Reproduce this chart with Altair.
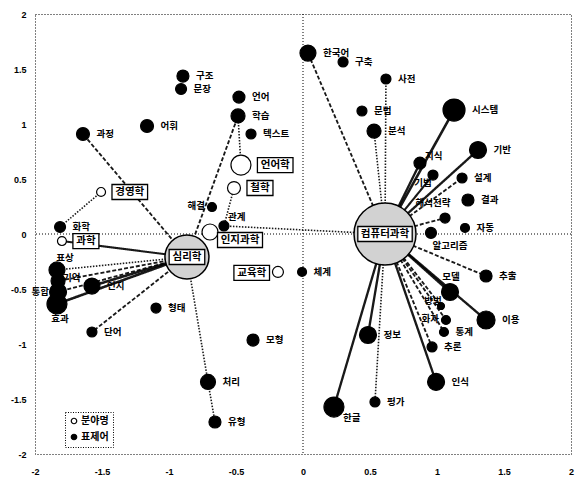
import math
import altair as alt
import pandas as pd

FONT_KR = "Noto Sans CJK KR"
FONT_NUM = "Liberation Sans"

# ---- 분야명 (fields) ----
field_names = ["심리학", "컴퓨터과학", "언어학", "철학", "인지과학", "경영학", "과학", "교육학"]
field_x = [-0.866, 0.612, -0.463, -0.515, -0.694, -1.507, -1.799, -0.187]
field_y = [-0.209, 0.000, 0.627, 0.418, 0.018, 0.382, -0.064, -0.345]
field_freq = [484, 961, 100, 42, 64, 20, 20, 30]
hub_names = ["심리학", "컴퓨터과학"]

# ---- 표제어 (headwords) ----
head_names = ["구조", "문장", "언어", "학습", "텍스트", "어휘", "과정", "해결", "관계", "화학",
              "표상", "기억", "통합", "효과", "인지", "단어", "형태", "모형", "처리", "유형", "체계",
              "한국어", "구축", "사전", "문법", "분석", "시스템", "기반", "지식", "기법", "설계", "결과",
              "해석전략", "자동", "알고리즘", "추출", "모델", "방법", "이용", "화자", "통계", "추론",
              "정보", "인식", "평가", "한글"]
head_x = [-0.896, -0.910, -0.478, -0.485, -0.388, -1.164, -1.642, -0.679, -0.590, -1.813,
          -1.836, -1.828, -1.828, -1.836, -1.575, -1.575, -1.097, -0.373, -0.709, -0.657, -0.007,
          0.037, 0.299, 0.619, 0.440, 0.530, 1.127, 1.306, 0.873, 0.970, 1.187, 1.231,
          1.060, 1.209, 0.955, 1.366, 1.097, 1.030, 1.366, 1.067, 1.052, 0.963,
          0.485, 0.993, 0.537, 0.231]
head_y = [1.436, 1.318, 1.245, 1.073, 0.909, 0.982, 0.909, 0.245, 0.073, 0.064,
          -0.327, -0.427, -0.527, -0.636, -0.473, -0.891, -0.673, -0.964, -1.345, -1.709, -0.345,
          1.645, 1.564, 1.409, 1.118, 0.936, 1.127, 0.764, 0.645, 0.536, 0.509, 0.309,
          0.145, 0.055, 0.010, -0.382, -0.527, -0.655, -0.782, -0.782, -0.891, -1.027,
          -0.918, -1.345, -1.527, -1.573]
head_freq = [36, 30, 36, 49, 25, 42, 42, 20, 25, 30,
             64, 49, 72, 100, 64, 25, 25, 36, 56, 36, 20,
             64, 25, 25, 25, 49, 121, 72, 36, 25, 25, 36,
             25, 20, 30, 36, 72, 12, 81, 20, 20, 25,
             72, 72, 25, 100]

# ---- 연결선 (links) ----
edge_from = ["심리학"] * 10 + ["경영학", "처리", "학습", "철학", "관계"] + ["컴퓨터과학"] * 20
edge_to = ["과정", "과학", "표상", "기억", "통합", "인지", "효과", "단어", "처리", "학습",
           "화학", "유형", "언어학", "관계", "컴퓨터과학",
           "한국어", "사전", "분석", "시스템", "지식", "기법", "기반", "설계", "해석전략", "추출",
           "모델", "이용", "방법", "화자", "통계", "추론", "인식", "정보", "평가", "한글"]
edge_style = ["dashed", "thin", "dotted", "dashed", "dashed", "thick", "thick", "dashed", "dotted", "dashed",
              "dotted", "dotted", "dotted", "dotted", "dotted",
              "dashed", "dotted", "dotted", "thick", "solid", "thin", "solid", "dashed", "dashed", "dashed",
              "thick", "solid", "dashed", "dashed", "dashed", "dashed", "solid", "solid", "dotted", "solid"]

# ---- layout ----
W, H = 536, 440
PX_X, PX_Y = W / 4, H / 4

# label placement (pixel offsets: dx, dy, align); default is to the right of the dot
label_place = {
    "표상": (8, -12, "center"), "기억": (5, -3, "left"), "통합": (-9, 0, "right"),
    "효과": (3, 15, "center"), "해결": (-7, -1, "right"), "관계": (4, -9, "left"),
    "모델": (1, -15, "center"), "방법": (-8, -5, "center"), "화자": (-7, -1, "right"),
    "알고리즘": (19, 13, "center"), "해석전략": (-12, -15, "center"), "기법": (-10, 8, "center"),
    "지식": (5, -7, "left"), "한글": (9, 11, "left"),
}
# boxed field labels: where the box sits relative to its circle
box_place = {"심리학": "center", "컴퓨터과학": "center", "인지과학": (30, 8), "교육학": "left"}

pos = {}
for n, x, y in zip(field_names, field_x, field_y):
    pos[n] = (x, y)
for n, x, y in zip(head_names, head_x, head_y):
    pos[n] = (x, y)

nodes = pd.DataFrame({
    "name": field_names + head_names,
    "x": field_x + head_x,
    "y": field_y + head_y,
    "freq": field_freq + head_freq,
    "kind": ["분야명"] * len(field_names) + ["표제어"] * len(head_names),
})
non_hub = nodes[~nodes["name"].isin(hub_names)]
hubs = nodes[nodes["name"].isin(hub_names)]

edges = pd.DataFrame({
    "x": [pos[a][0] for a in edge_from], "y": [pos[a][1] for a in edge_from],
    "x2": [pos[b][0] for b in edge_to], "y2": [pos[b][1] for b in edge_to],
    "style": edge_style,
})

# headword labels
rows = []
for n, x, y, f in zip(head_names, head_x, head_y, head_freq):
    r = math.sqrt(f)
    dx, dy, al = label_place.get(n, (r + 7, 0, "left"))
    rows.append({"text": n, "tx": x + dx / PX_X, "ty": y - dy / PX_Y, "align": al})
labels = pd.DataFrame(rows)

# boxed field labels
brows = []
BOX_H = 15
for n, x, y, f in zip(field_names, field_x, field_y, field_freq):
    r = math.sqrt(f)
    w = 9.5 * len(n) + 7
    p = box_place.get(n, "right")
    if p == "center":
        dx, dy = 0, 0
    elif p == "left":
        dx, dy = -(r + 3 + w / 2), 1
    elif p == "right":
        dx, dy = r + 6.5 + w / 2, 0
    else:
        dx, dy = p
    path = f"M{-w/2:.1f},{-BOX_H/2:.1f}H{w/2:.1f}V{BOX_H/2:.1f}H{-w/2:.1f}Z"
    brows.append({"text": n, "bx": x + dx / PX_X, "by": y - dy / PX_Y, "path": path})
boxes = pd.DataFrame(brows)

xs = alt.Scale(domain=[-2, 2], nice=False, zero=False)
ys = alt.Scale(domain=[-2, 2], nice=False, zero=False)
ticks = [-2, -1.5, -1, -0.5, 0, 0.5, 1, 1.5, 2]
xaxis = alt.Axis(values=ticks, title=None, grid=False, domain=False, ticks=False,
                 labelPadding=13, labelFlush=False, labelOverlap=False,
                 labelExpr="datum.value + ''")
yaxis = alt.Axis(values=ticks, title=None, grid=False, domain=False, ticks=False,
                 labelPadding=9, labelFlush=False, labelOverlap=False,
                 labelExpr="datum.value + ''")
size_scale = alt.Scale(type="linear", domain=[0, 1000], range=[0, 4000])

zero_x = alt.Chart(pd.DataFrame({"v": [0]})).mark_rule(
    color="black", strokeDash=[1, 2], strokeWidth=1
).encode(x=alt.X("v:Q", scale=xs, axis=xaxis))
zero_y = alt.Chart(pd.DataFrame({"v": [0]})).mark_rule(
    color="black", strokeDash=[1, 2], strokeWidth=1
).encode(y=alt.Y("v:Q", scale=ys, axis=yaxis))

style_dom = ["thick", "solid", "thin", "dashed", "dotted"]
links = alt.Chart(edges).mark_rule(color="black", opacity=0.9).encode(
    x=alt.X("x:Q", scale=xs), y=alt.Y("y:Q", scale=ys),
    x2="x2:Q", y2="y2:Q",
    strokeWidth=alt.StrokeWidth("style:N", scale=alt.Scale(domain=style_dom, range=[2.6, 1.6, 1.0, 1.0, 1.1]), legend=None),
    strokeDash=alt.StrokeDash("style:N", scale=alt.Scale(domain=style_dom, range=[[1, 0], [1, 0], [1, 0], [4, 2], [1.5, 1.5]]), legend=None),
)

dots = alt.Chart(non_hub).mark_circle(stroke="black", strokeWidth=1.2, opacity=1).encode(
    x=alt.X("x:Q", scale=xs), y=alt.Y("y:Q", scale=ys),
    size=alt.Size("freq:Q", scale=size_scale, legend=None),
    fill=alt.Fill("kind:N", scale=alt.Scale(domain=["분야명", "표제어"], range=["white", "black"]),
                  legend=alt.Legend(title=None, orient="none", legendX=30, legendY=398,
                                    symbolType="circle", symbolSize=30,
                                    symbolStrokeColor="black", symbolStrokeWidth=1.2,
                                    labelFont=FONT_KR, labelFontSize=10, labelFontWeight="bold",
                                    labelColor="black", labelOffset=2, rowPadding=4,
                                    padding=4, fillColor="white", strokeColor="black")),
)

hub_dots = alt.Chart(hubs).mark_circle(stroke="black", strokeWidth=1.5, fill="#d2d2d2", opacity=1).encode(
    x=alt.X("x:Q", scale=xs), y=alt.Y("y:Q", scale=ys),
    size=alt.Size("freq:Q", scale=size_scale, legend=None),
)

box_marks = alt.Chart(boxes).mark_point(
    size=4, fill="white", stroke="black", strokeWidth=1.3, opacity=1, fillOpacity=1
).encode(
    x=alt.X("bx:Q", scale=xs), y=alt.Y("by:Q", scale=ys),
    shape=alt.Shape("path:N", scale=None, legend=None),
)
box_text = alt.Chart(boxes).mark_text(
    font=FONT_KR, fontSize=10.5, fontWeight="bold", color="black", align="center", baseline="middle"
).encode(x=alt.X("bx:Q", scale=xs), y=alt.Y("by:Q", scale=ys), text="text:N")

text_layers = []
for al in ["left", "center", "right"]:
    text_layers.append(
        alt.Chart(labels).transform_filter(alt.datum.align == al).mark_text(
            font=FONT_KR, fontSize=9.5, fontWeight="bold", color="black", align=al, baseline="middle"
        ).encode(x=alt.X("tx:Q", scale=xs), y=alt.Y("ty:Q", scale=ys), text="text:N")
    )

chart = alt.layer(
    zero_x, zero_y, links, dots, hub_dots, box_marks, box_text, *text_layers
).properties(
    width=W, height=H,
    padding={"left": 35, "top": 14, "right": 10, "bottom": 33},
    autosize=alt.AutoSizeParams(type="none"),
    background="white",
).configure_view(
    stroke="black", strokeDash=[1, 2], strokeWidth=1
).configure_axis(
    labelFont=FONT_NUM, labelFontWeight="bold", labelFontSize=9, labelColor="black"
).configure_legend(
    strokeDash=[1, 1.5]
)

chart.save("out.html", embed_options={"renderer": "svg", "actions": False})
